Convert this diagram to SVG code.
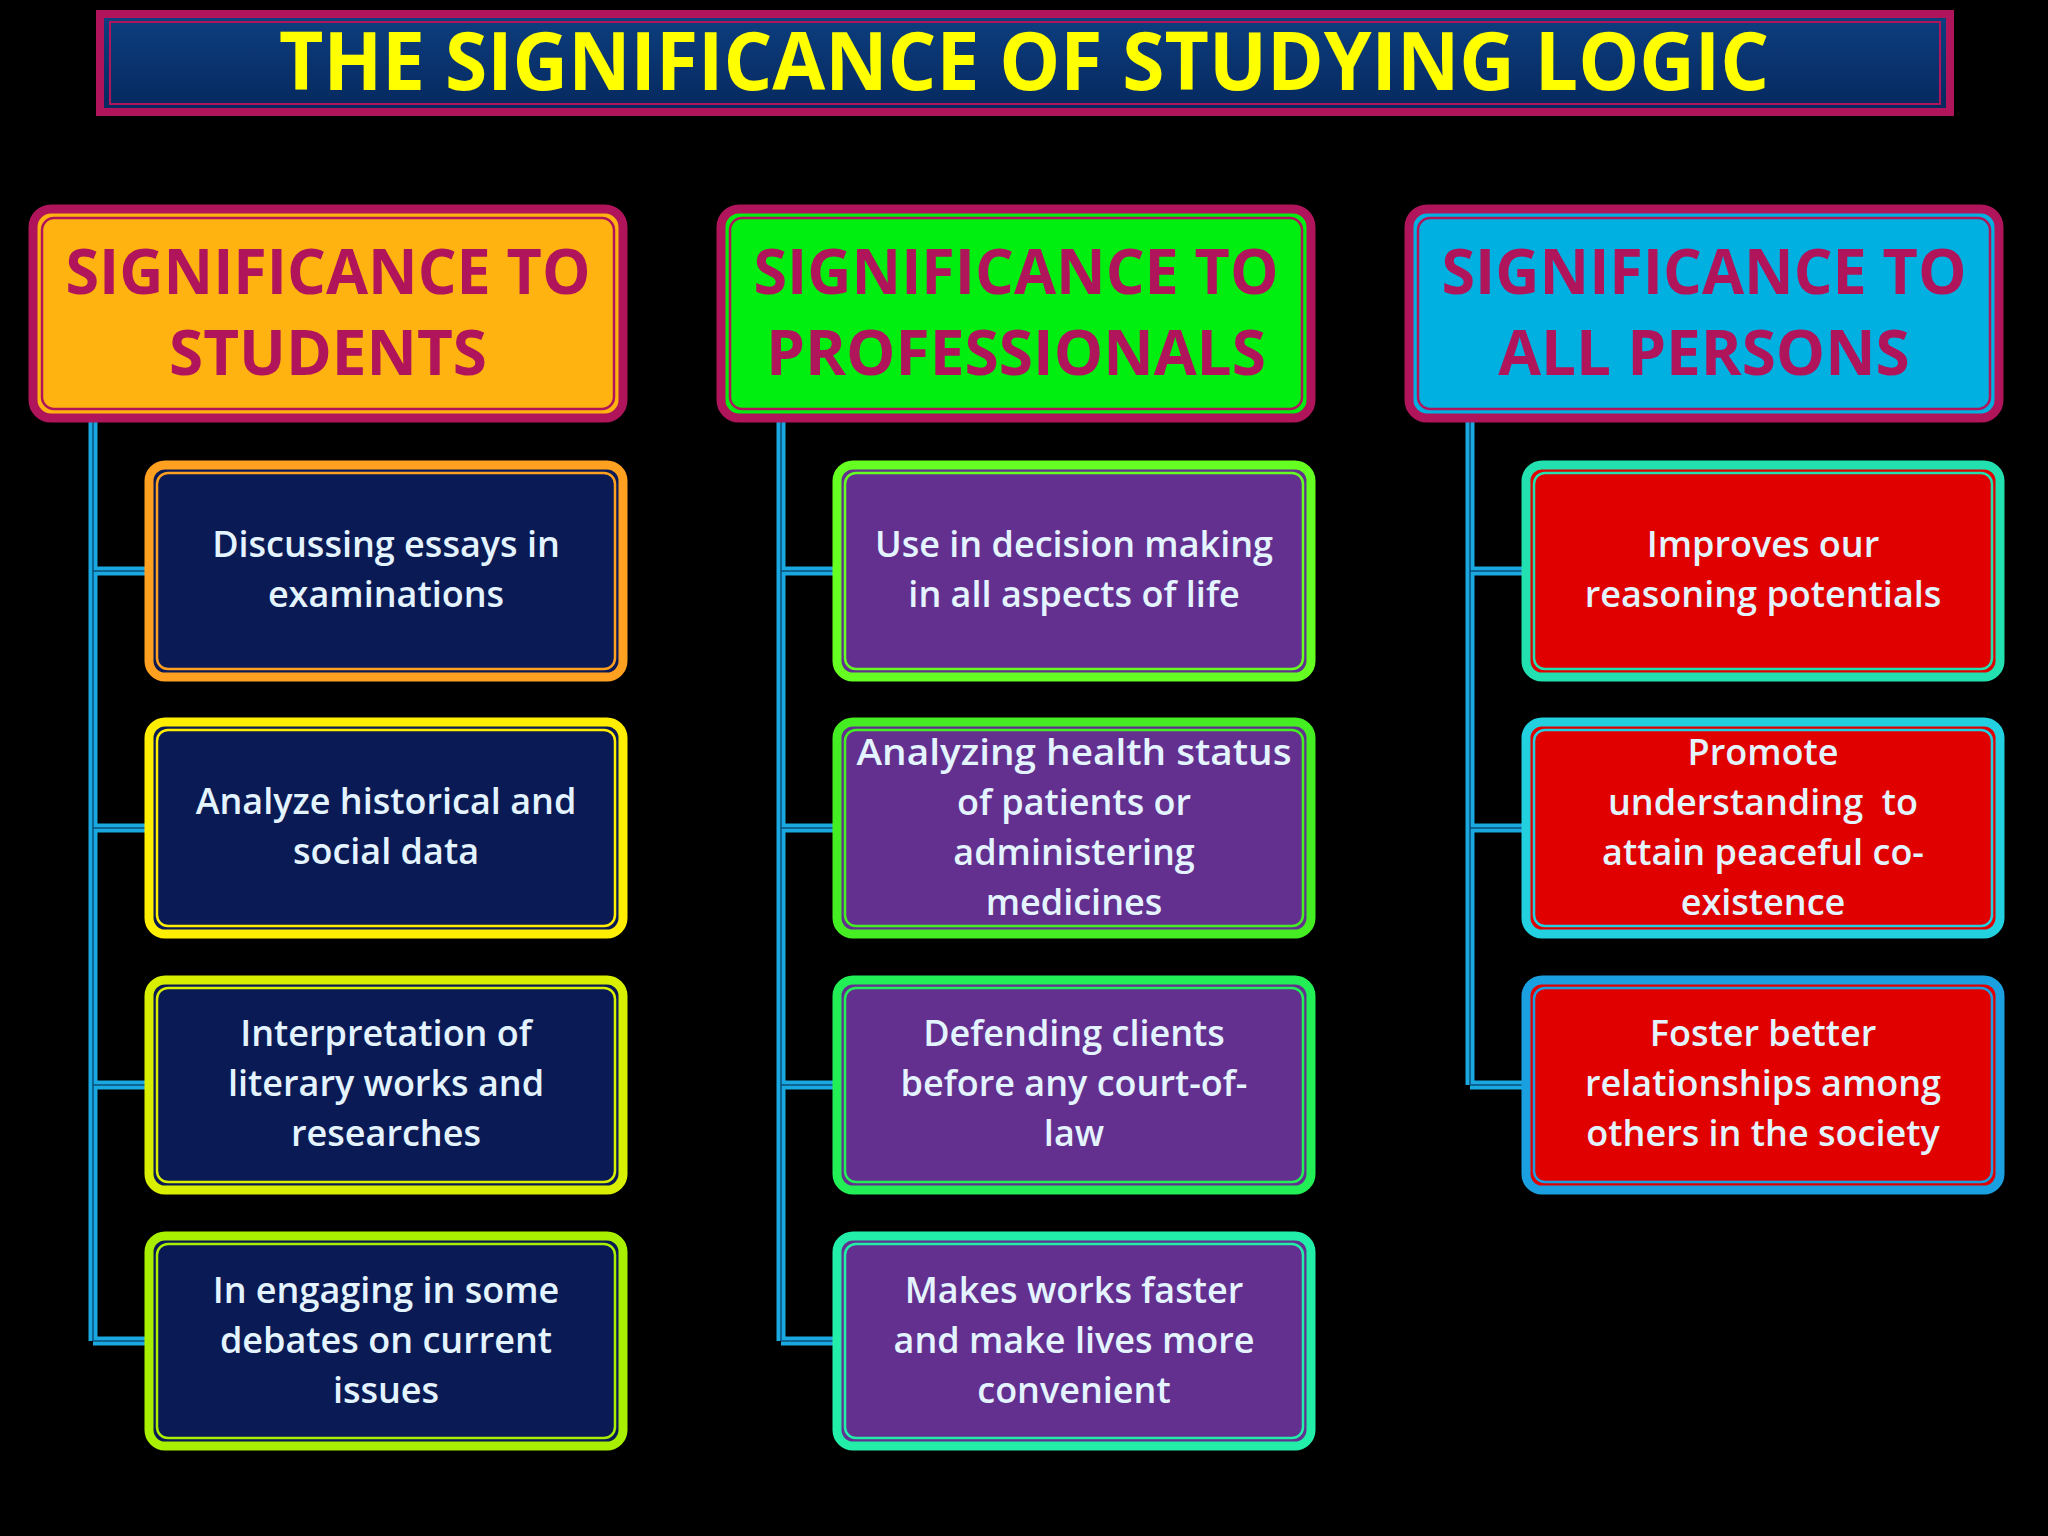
<svg xmlns="http://www.w3.org/2000/svg" width="2048" height="1536" viewBox="0 0 2048 1536">
<defs>
<linearGradient id="tg" x1="0" y1="0" x2="0" y2="1"><stop offset="0" stop-color="#0d3f80"/><stop offset="1" stop-color="#06285e"/></linearGradient>
</defs>
<style>
.hd{font-family:"Open Sans","Noto Sans",sans-serif;font-weight:bold;font-size:62px;fill:#b0145a;text-anchor:middle}
.bt{font-family:"Open Sans","Noto Sans",sans-serif;font-weight:600;font-size:36px;fill:#e4f4ff;text-anchor:middle}
.hb{stroke:#b0145a;stroke-width:9}
.in{fill:none;stroke-width:2.5}
.cn{fill:none;stroke:#1aa8e0;stroke-width:9}
.cc{fill:none;stroke:#0b4f7a;stroke-width:1.5}
</style>
<rect width="2048" height="1536" fill="#000"/>
<g id="title">
<rect x="100" y="14" width="1850" height="98" fill="url(#tg)" stroke="#b0145a" stroke-width="8"/>
<rect x="110" y="22" width="1830" height="82" fill="none" stroke="#b0145a" stroke-width="2"/>
<text x="1024" y="90" font-family="'Open Sans','Noto Sans',sans-serif" font-weight="bold" font-size="80" fill="#ffff00" text-anchor="middle" textLength="1490" lengthAdjust="spacingAndGlyphs">THE SIGNIFICANCE OF STUDYING LOGIC</text>
</g>
<g id="connectors">
<path class="cn" d="M93 418V1341M93 571H149M93 828H149M93 1085H149M93 1341H149M781 418V1341M781 571H835M781 828H835M781 1085H835M781 1341H835M1470 418V1085M1470 571H1524M1470 828H1524M1470 1085H1524"/>
<path class="cc" d="M93 418V1341M93 571H149M93 828H149M93 1085H149M93 1341H149M781 418V1341M781 571H835M781 828H835M781 1085H835M781 1341H835M1470 418V1085M1470 571H1524M1470 828H1524M1470 1085H1524"/>
</g>
<g id="h1"><rect class="hb" x="33" y="209" width="590" height="209" rx="18" fill="#ffb310"/><rect class="in" x="42" y="218" width="572" height="191" rx="12" stroke="#b0145a"/>
<text class="hd" x="328" y="294" textLength="525" lengthAdjust="spacingAndGlyphs">SIGNIFICANCE TO</text><text class="hd" x="328" y="375">STUDENTS</text></g>
<g id="h2"><rect class="hb" x="721" y="209" width="590" height="209" rx="18" fill="#00ee10"/><rect class="in" x="730" y="218" width="572" height="191" rx="12" stroke="#b0145a"/>
<text class="hd" x="1016" y="294" textLength="525" lengthAdjust="spacingAndGlyphs">SIGNIFICANCE TO</text><text class="hd" x="1016" y="375" textLength="500" lengthAdjust="spacingAndGlyphs">PROFESSIONALS</text></g>
<g id="h3"><rect class="hb" x="1409" y="209" width="590" height="209" rx="18" fill="#00b0e0"/><rect class="in" x="1418" y="218" width="572" height="191" rx="12" stroke="#b0145a"/>
<text class="hd" x="1704" y="294" textLength="525" lengthAdjust="spacingAndGlyphs">SIGNIFICANCE TO</text><text class="hd" x="1704" y="375">ALL PERSONS</text></g>

<g id="s1"><rect x="149" y="465" width="474" height="212" rx="16" fill="#0a1a55" stroke="#ffa020" stroke-width="9"/><rect class="in" x="157" y="473" width="458" height="196" rx="11" stroke="#ffa020"/>
<text class="bt" x="386" y="557">Discussing essays in</text><text class="bt" x="386" y="607">examinations</text></g>
<g id="s2"><rect x="149" y="722" width="474" height="212" rx="16" fill="#0a1a55" stroke="#ffee00" stroke-width="9"/><rect class="in" x="157" y="730" width="458" height="196" rx="11" stroke="#ffee00"/>
<text class="bt" x="386" y="814">Analyze historical and</text><text class="bt" x="386" y="864">social data</text></g>
<g id="s3"><rect x="149" y="980" width="474" height="210" rx="16" fill="#0a1a55" stroke="#d8f000" stroke-width="9"/><rect class="in" x="157" y="988" width="458" height="194" rx="11" stroke="#d8f000"/>
<text class="bt" x="386" y="1046">Interpretation of</text><text class="bt" x="386" y="1096">literary works and</text><text class="bt" x="386" y="1146">researches</text></g>
<g id="s4"><rect x="149" y="1236" width="474" height="210" rx="16" fill="#0a1a55" stroke="#a8f000" stroke-width="9"/><rect class="in" x="157" y="1244" width="458" height="194" rx="11" stroke="#a8f000"/>
<text class="bt" x="386" y="1303">In engaging in some</text><text class="bt" x="386" y="1353">debates on current</text><text class="bt" x="386" y="1403">issues</text></g>

<g id="p1"><rect x="837" y="465" width="474" height="212" rx="16" fill="#63308f" stroke="#66ff22" stroke-width="9"/><rect class="in" x="845" y="473" width="458" height="196" rx="11" stroke="#66ff22"/>
<text class="bt" x="1074" y="557">Use in decision making</text><text class="bt" x="1074" y="607">in all aspects of life</text></g>
<g id="p2"><rect x="837" y="722" width="474" height="212" rx="16" fill="#63308f" stroke="#44ee22" stroke-width="9"/><rect class="in" x="845" y="730" width="458" height="196" rx="11" stroke="#44ee22"/>
<text class="bt" x="1074" y="765" textLength="435" lengthAdjust="spacingAndGlyphs">Analyzing health status</text><text class="bt" x="1074" y="815">of patients or</text><text class="bt" x="1074" y="865">administering</text><text class="bt" x="1074" y="915">medicines</text></g>
<g id="p3"><rect x="837" y="980" width="474" height="210" rx="16" fill="#63308f" stroke="#22ee55" stroke-width="9"/><rect class="in" x="845" y="988" width="458" height="194" rx="11" stroke="#22ee55"/>
<text class="bt" x="1074" y="1046">Defending clients</text><text class="bt" x="1074" y="1096">before any court-of-</text><text class="bt" x="1074" y="1146">law</text></g>
<g id="p4"><rect x="837" y="1236" width="474" height="210" rx="16" fill="#63308f" stroke="#22eeaa" stroke-width="9"/><rect class="in" x="845" y="1244" width="458" height="194" rx="11" stroke="#22eeaa"/>
<text class="bt" x="1074" y="1303">Makes works faster</text><text class="bt" x="1074" y="1353">and make lives more</text><text class="bt" x="1074" y="1403">convenient</text></g>

<g id="a1"><rect x="1526" y="465" width="474" height="212" rx="16" fill="#e00000" stroke="#22e0b0" stroke-width="9"/><rect class="in" x="1534" y="473" width="458" height="196" rx="11" stroke="#22e0b0"/>
<text class="bt" x="1763" y="557">Improves our</text><text class="bt" x="1763" y="607">reasoning potentials</text></g>
<g id="a2"><rect x="1526" y="722" width="474" height="212" rx="16" fill="#e00000" stroke="#22d0e0" stroke-width="9"/><rect class="in" x="1534" y="730" width="458" height="196" rx="11" stroke="#22d0e0"/>
<text class="bt" x="1763" y="765">Promote</text><text class="bt" x="1763" y="815" xml:space="preserve">understanding  to</text><text class="bt" x="1763" y="865">attain peaceful co-</text><text class="bt" x="1763" y="915">existence</text></g>
<g id="a3"><rect x="1526" y="980" width="474" height="210" rx="16" fill="#e00000" stroke="#1aa0e0" stroke-width="9"/><rect class="in" x="1534" y="988" width="458" height="194" rx="11" stroke="#1aa0e0"/>
<text class="bt" x="1763" y="1046">Foster better</text><text class="bt" x="1763" y="1096">relationships among</text><text class="bt" x="1763" y="1146">others in the society</text></g>
</svg>
